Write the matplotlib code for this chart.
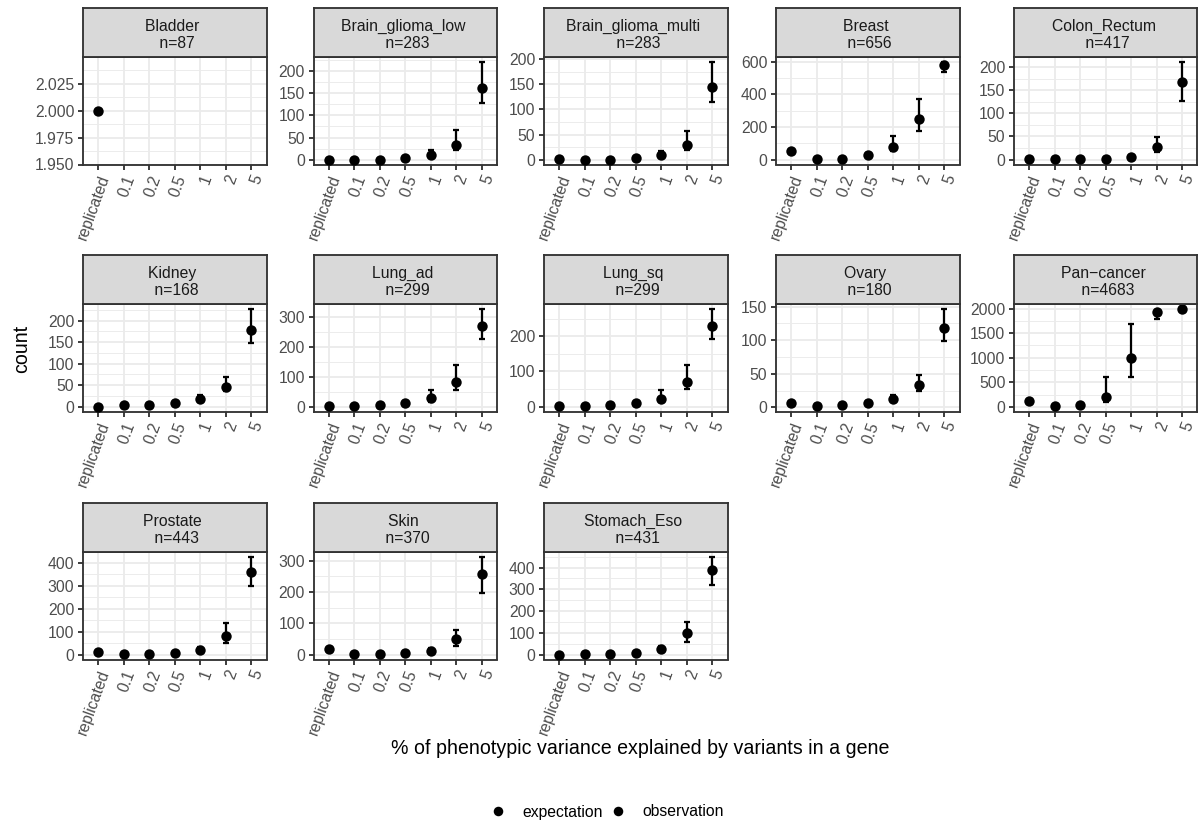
import numpy as np
import matplotlib
import matplotlib.pyplot as plt
from matplotlib.lines import Line2D
from matplotlib.ticker import MaxNLocator, AutoMinorLocator

matplotlib.use('Agg')

plt.rcParams['font.family'] = ['Liberation Sans', 'DejaVu Sans']

nan = np.nan

tissues = ['Bladder', 'Brain_glioma_low', 'Brain_glioma_multi', 'Breast',
           'Colon_Rectum', 'Kidney', 'Lung_ad', 'Lung_sq', 'Ovary',
           'Pan\u2212cancer', 'Prostate', 'Skin', 'Stomach_Eso']
sample_sizes = [87, 283, 283, 656, 417, 168, 299, 299, 180, 4683, 443, 370, 431]
x_labels = ['replicated', '0.1', '0.2', '0.5', '1', '2', '5']

# observed number of replicated genes
replicated = [2, 0, 1, 51, 1, 0, 4, 3, 6, 121, 10, 17, 0]

# expected counts for 0.1, 0.2, 0.5, 1, 2, 5 % variance explained
expected_mid = [
    [nan, nan, nan, nan, nan, nan],
    [0, 0, 3.7, 11, 34, 163],
    [0, 0, 2.6, 8.5, 30, 144],
    [4, 6, 28, 81, 250, 576],
    [0.3, 0.3, 2, 6.4, 28, 167],
    [3.8, 3.8, 8.5, 18.5, 45, 178],
    [4, 6.6, 12, 28.6, 82, 269],
    [2.8, 4.7, 10, 21, 69, 229],
    [2.5, 3.4, 6.4, 13, 33, 118.6],
    [13, 34, 208, 987, 1926, 1987],
    [1.4, 1.4, 7.2, 20, 82, 361],
    [3, 3, 6.3, 12.6, 49, 257],
    [1.5, 3, 7.6, 26, 98, 391],
]
expected_low = [
    [nan, nan, nan, nan, nan, nan],
    [0, 0, 1, 4, 22, 129],
    [0, 0, 0, 3, 20, 114],
    [1, 2, 18, 55, 176, 539],
    [0, 0, 0, 3, 16, 126],
    [1, 1, 4, 11, 36, 148],
    [1, 3, 6, 17, 57, 226],
    [0, 1, 5, 12, 49, 192],
    [1, 1, 3, 9, 25, 99.5],
    [5, 15, 100, 604, 1779, 1975],
    [0, 0, 3, 10, 52, 297],
    [0, 0, 2, 6, 29, 198],
    [0, 0, 3, 15, 60, 322],
]
expected_high = [
    [nan, nan, nan, nan, nan, nan],
    [1, 1, 7, 22, 66, 221],
    [1, 1, 6, 17, 58, 195],
    [8, 11, 40, 145, 372, 598],
    [1, 1, 5, 11, 49, 211],
    [7, 7, 14, 26, 68, 227],
    [8, 11, 19, 57, 139, 326],
    [6, 9, 16, 47, 119, 278],
    [5, 6, 10, 18, 47.5, 146.6],
    [25, 60, 617, 1678, 1980, 1993],
    [4, 4, 13, 35, 138, 426],
    [6, 6, 11, 20, 77, 312],
    [4, 7, 13, 38, 151, 449],
]

# figure layout in pixels
W, H, DPI = 1198, 823, 125
col_left = [83, 313.5, 544, 776, 1014]
row_top = [57, 304, 552]
panel_w, panel_h, strip_h = 183.5, 107.5, 49

DARK = '#333333'
GRID = '#EBEBEB'
LW = 1.07
TXT = 9.1


def px_box(x, y_top, w, h):
    return [x / W, 1 - (y_top + h) / H, w / W, h / H]


fig = plt.figure(figsize=(W / DPI, H / DPI), dpi=DPI)

for i, name in enumerate(tissues):
    r, c = divmod(i, 5)
    ax = fig.add_axes(px_box(col_left[c], row_top[r], panel_w, panel_h))
    strip = fig.add_axes(px_box(col_left[c], row_top[r] - strip_h, panel_w, strip_h))

    # strip label
    strip.set_facecolor('#D9D9D9')
    strip.set_xticks([])
    strip.set_yticks([])
    for sp in strip.spines.values():
        sp.set_color(DARK)
        sp.set_linewidth(LW)
    strip.text(0.5, 0.45, f'{name} \n n={sample_sizes[i]}', transform=strip.transAxes,
               ha='center', va='center', fontsize=TXT, color='#1A1A1A', linespacing=1.2)

    mid = np.array(expected_mid[i], dtype=float)
    low = np.array(expected_low[i], dtype=float)
    high = np.array(expected_high[i], dtype=float)
    xs = np.arange(1, 7)

    ax.errorbar(xs, mid, yerr=[mid - low, high - mid], fmt='none', ecolor='black',
                elinewidth=1.3, capsize=1.6, capthick=1.3, zorder=3)
    ax.plot(xs, mid, 'o', color='black', ms=6, mew=0, zorder=4)
    ax.plot([0], [replicated[i]], 'o', color='black', ms=6, mew=0, zorder=4)

    # y range from all values, expanded by 5%
    vals = np.concatenate([[replicated[i]], low, high])
    lo_v, hi_v = np.nanmin(vals), np.nanmax(vals)
    if hi_v > lo_v:
        pad = 0.05 * (hi_v - lo_v)
        ax.set_ylim(lo_v - pad, hi_v + pad)
        ax.yaxis.set_major_locator(MaxNLocator(nbins=6, steps=[1, 2, 2.5, 5, 10]))
    else:
        # single value: narrow band around it
        ax.set_ylim(lo_v - 0.05, hi_v + 0.05)
        ax.set_yticks(np.arange(lo_v - 0.05, hi_v + 0.04, 0.025))
    ax.yaxis.set_minor_locator(AutoMinorLocator(2))

    ax.set_xlim(-0.6, 6.6)
    ax.set_xticks(range(7))
    ax.set_xticklabels(x_labels, rotation=70, ha='right', va='top', rotation_mode='anchor')

    ax.set_axisbelow(True)
    ax.grid(which='major', color=GRID, linewidth=LW)
    ax.grid(which='minor', axis='y', color=GRID, linewidth=LW / 2)
    for sp in ax.spines.values():
        sp.set_color(DARK)
        sp.set_linewidth(LW)
    ax.tick_params(which='major', direction='out', length=2.75, width=LW, color=DARK,
                   labelsize=TXT, labelcolor='#4D4D4D', pad=2.2)
    ax.tick_params(which='minor', length=0)

fig.text(22 / W, 1 - 349 / H, 'count', rotation=90, ha='center', va='center', fontsize=11.3)
fig.text(640 / W, 1 - 749 / H, '% of phenotypic variance explained by variants in a gene',
         ha='center', va='center', fontsize=11.3)

handles = [Line2D([], [], marker='o', color='black', ls='none', ms=5.5, mew=0),
           Line2D([], [], marker='o', color='black', ls='none', ms=5.5, mew=0)]
fig.legend(handles, ['expectation', 'observation'], loc='center',
           bbox_to_anchor=(607 / W, 1 - 812 / H), ncol=2, frameon=False, fontsize=TXT,
           handlelength=1.0, handletextpad=1.0, columnspacing=0.5)

fig.savefig('out.png', dpi=DPI)
